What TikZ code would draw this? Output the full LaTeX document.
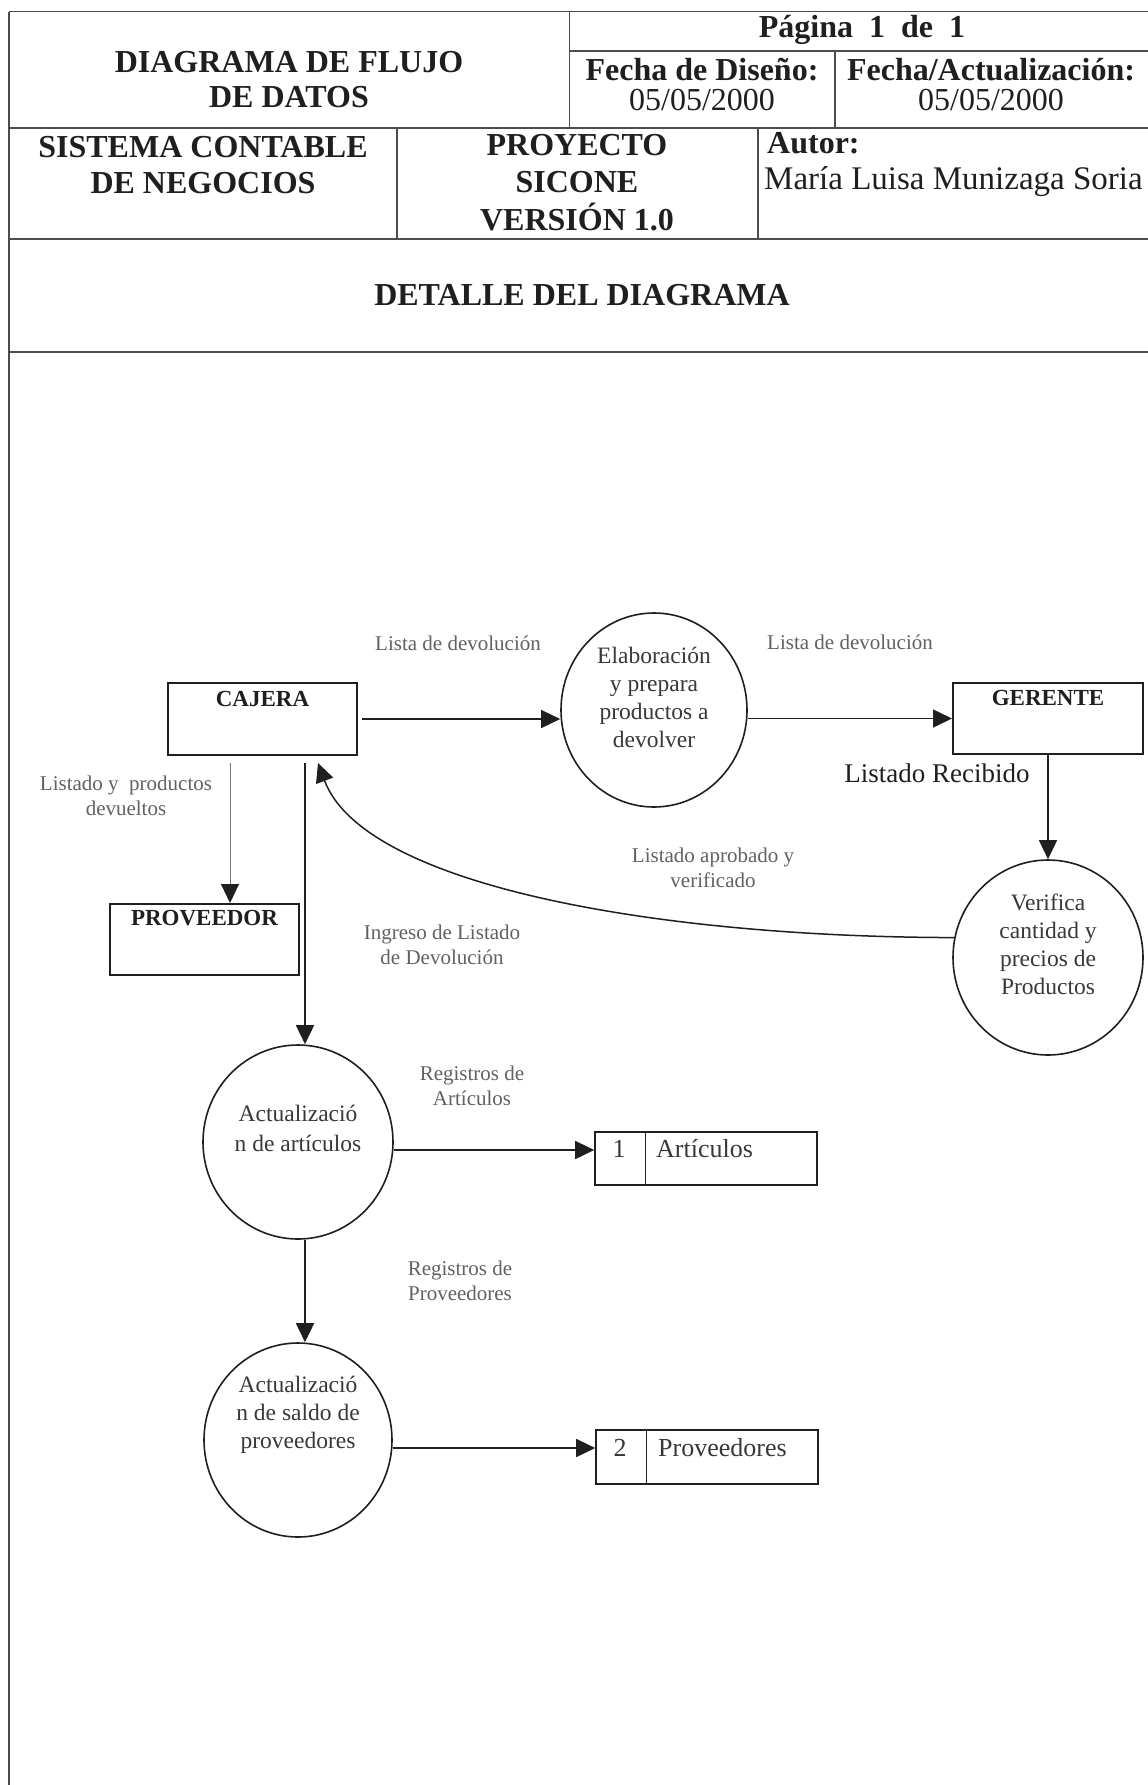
\documentclass[tikz,border=0pt]{standalone}
\usepackage{fontspec}
\setmainfont{Liberation Serif}
\usetikzlibrary{arrows.meta,shapes.geometric}
\definecolor{ink}{gray}{0.12}
\definecolor{txtc}{gray}{0.22}
\definecolor{lblc}{gray}{0.38}
\tikzset{
  hline/.style={line width=1.6pt, draw=black!70},
  htxtB/.style={font=\fontsize{32}{35}\selectfont\bfseries, text=ink, align=center, inner sep=0pt},
  htxt/.style={font=\fontsize{32}{30}\selectfont, text=ink, align=center, inner sep=0pt},
  ebox/.style={draw=ink, line width=2pt, rectangle, inner sep=0pt, minimum width=189pt, minimum height=72pt},
  etxt/.style={font=\fontsize{23}{27}\selectfont\bfseries, text=ink, inner sep=0pt},
  proc/.style={draw=ink, line width=1.6pt, ellipse, inner sep=0pt},
  ptxt/.style={font=\fontsize{23.5}{28}\selectfont, text=txtc, align=center, inner sep=0pt},
  lbl/.style={font=\fontsize{21}{25}\selectfont, text=lblc, align=center, inner sep=0pt},
  flow/.style={draw=ink, line width=1.5pt, -{Triangle[length=19pt,width=18pt]}},
  thinflow/.style={draw=black!55, line width=0.9pt, -{Triangle[length=19pt,width=18pt,color=ink]}},
  store/.style={draw=ink, line width=1.6pt, rectangle, inner sep=0pt, minimum width=222pt, minimum height=53pt},
  stxt/.style={font=\fontsize{26}{30}\selectfont, text=txtc, inner sep=0pt},
}
\begin{document}
\begin{tikzpicture}[x=1pt,y=-1pt]
\fill[white] (0,0) rectangle (1148,1785);
\useasboundingbox (0,0) rectangle (1148,1785);

% ---- header table ----
\draw[hline] (9,11.7) -- (1148,11.7);
\draw[hline] (9,11.7) -- (9,1785);
\draw[hline] (9,127.7) -- (1148,127.7);
\draw[hline] (9,239) -- (1148,239);
\draw[hline] (9,351.7) -- (1148,351.7);
\draw[hline] (569.4,51) -- (1148,51);
\draw[hline] (569.4,11.7) -- (569.4,127.7);
\draw[hline] (834.7,51) -- (834.7,127.7);
\draw[hline] (397,127.7) -- (397,239);
\draw[hline] (758,127.7) -- (758,239);

\node[htxtB] (h1) at (289,79.5) {DIAGRAMA DE FLUJO\\DE DATOS};
\node[htxtB] (h2) at (862,30) {Página\ \ 1\ \ de\ \ 1};
\node[htxt] (h3) at (702,85) {\textbf{Fecha de Diseño:}\\05/05/2000};
\node[htxt] (h4) at (991,85) {\textbf{Fecha/Actualización:}\\05/05/2000};
\node[htxtB, font=\fontsize{32}{36}\selectfont\bfseries] (h5) at (203,165) {SISTEMA CONTABLE\\DE NEGOCIOS};
\node[htxtB, font=\fontsize{32}{37.5}\selectfont\bfseries] (h6) at (577,182.5) {PROYECTO\\SICONE\\VERSIÓN 1.0};
\node[htxtB, anchor=west] (h7) at (767,143) {Autor:};
\node[htxt, anchor=west, font=\fontsize{33}{36}\selectfont] (h8) at (764,182) {María Luisa Munizaga Soria};
\node[htxtB] (h9) at (582,295) {DETALLE DEL DIAGRAMA};

% ---- entities ----
\node[ebox] (cajera) at (262.5,719) {};
\node[etxt] (cajeraT) at (262.5,699) {CAJERA};
\node[ebox, minimum height=71pt] (prov) at (204.5,939.5) {};
\node[etxt] (provT) at (204.5,918) {PROVEEDOR};
\node[ebox, minimum width=190pt, minimum height=71pt] (ger) at (1048,718.5) {};
\node[etxt] (gerT) at (1048,698) {GERENTE};

% ---- processes ----
\node[proc, minimum width=186pt, minimum height=194pt] (elab) at (654,710) {};
\node[ptxt] (elabT) at (654,697) {Elaboración\\y prepara\\productos a\\devolver};
\node[proc, minimum width=190pt, minimum height=195pt] (verif) at (1048,957.5) {};
\node[ptxt] (verifT) at (1048,944) {Verifica\\cantidad y\\precios de\\Productos};
\node[proc, minimum width=190pt, minimum height=194pt] (act1) at (298,1142) {};
\node[ptxt, font=\fontsize{23.5}{30}\selectfont] (act1T) at (298,1128) {Actualizació\\n de artículos};
\node[proc, minimum width=188pt, minimum height=194pt] (act2) at (298,1440) {};
\node[ptxt] (act2T) at (298,1414.5) {Actualizació\\n de saldo de\\proveedores};

% ---- data stores ----
\node[store] (st1) at (706,1158.5) {};
\draw[draw=ink, line width=1.4pt] ([xshift=51pt]st1.north west) -- ([xshift=51pt]st1.south west);
\node[stxt] (st1n) at (619,1149) {1};
\node[stxt, anchor=west] (st1t) at (656,1149) {Artículos};
\node[store, minimum height=54pt] (st2) at (707,1457) {};
\draw[draw=ink, line width=1.4pt] ([xshift=51pt]st2.north west) -- ([xshift=51pt]st2.south west);
\node[stxt] (st2n) at (620,1448) {2};
\node[stxt, anchor=west] (st2t) at (658,1448) {Proveedores};

% ---- connectors ----
\coordinate (c1) at (305,763);
\coordinate (c2) at (230,763);
\coordinate (ctip) at (318,763);
\draw[flow] ([xshift=4pt]cajera.east) -- (cajera.east -| elab.west);
\draw[flow] (elab.east |- ger.west) -- (ger.west);
\draw[flow] (ger.south) -- (verif.north);
\draw[flow] (verif.168) .. controls (653,937) and (363.5,885) .. (ctip);
\draw[thinflow] (c2) -- (c2 |- prov.north);
\draw[flow] (c1) -- (c1 |- act1.north);
\draw[flow] ([yshift=-8pt]act1.east) -- ([yshift=-8pt]act1.east -| st1.west);
\draw[flow] (c1 |- act1.south) -- (c1 |- act2.north);
\draw[flow] ([yshift=-8pt]act2.east) -- ([yshift=-8pt]act2.east -| st2.west);

% ---- labels ----
\node[lbl] (l1) at (458,643) {Lista de devolución};
\node[lbl] (l2) at (850,642) {Lista de devolución};
\node[lbl] (l3) at (126,796) {Listado y\ \ productos\\devueltos};
\node[font=\fontsize{27}{30}\selectfont, text=ink, inner sep=0pt] (l4) at (937,773) {Listado Recibido};
\node[lbl] (l5) at (713,868) {Listado aprobado y\\verificado};
\node[lbl] (l6) at (442,944.5) {Ingreso de Listado\\de Devolución};
\node[lbl] (l7) at (472,1085.5) {Registros de\\Artículos};
\node[lbl] (l8) at (460,1280.5) {Registros de\\Proveedores};
\end{tikzpicture}
\end{document}
